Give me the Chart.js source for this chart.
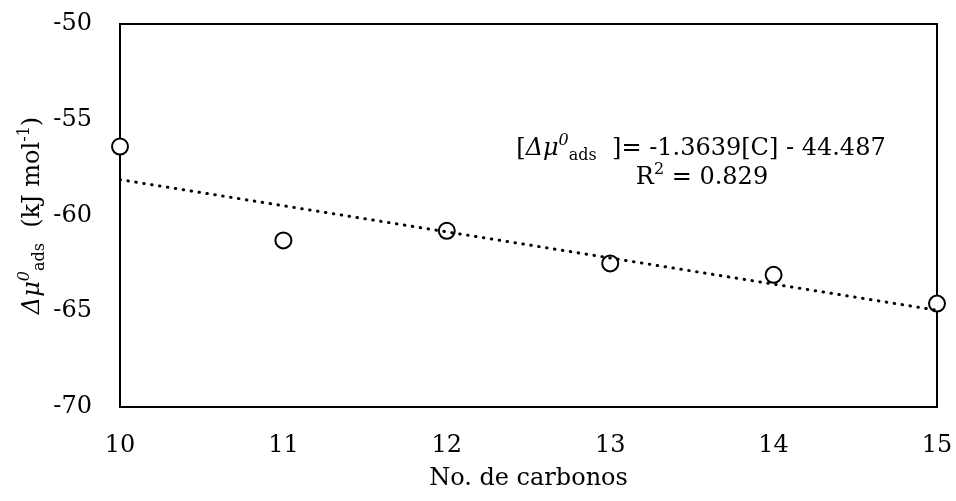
<!DOCTYPE html>
<html>
<head>
<meta charset="utf-8">
<script src="https://cdn.jsdelivr.net/npm/chart.js@4/dist/chart.umd.min.js"></script>
<style>
  html, body { margin: 0; padding: 0; background: #fff; }
</style>
</head>
<body>
<canvas id="ads" width="956" height="501"></canvas>
<script>
const carbonos = [10, 11, 12, 13, 14, 15];
const deltaMu = [-56.4, -61.3, -60.8, -62.5, -63.1, -64.6];

// linear fit reported on the chart
const slope = -1.3639;
const intercept = -44.487;
const r2 = 0.829;

const FONT = "'DejaVu Serif', 'Liberation Serif', serif";
const SIZE = 24;
const SMALL = 16;

const puntos = carbonos.map((c, i) => ({ x: c, y: deltaMu[i] }));
const ajuste = [carbonos[0], carbonos[carbonos.length - 1]].map(c => ({ x: c, y: slope * c + intercept }));

// draws a run of text pieces: [text, size, italic, dy]
function drawRuns(ctx, runs, x, y) {
  let total = 0;
  runs.forEach(r => {
    ctx.font = (r[2] ? 'italic ' : '') + r[1] + 'px ' + FONT;
    r.w = ctx.measureText(r[0]).width;
    total += r.w;
  });
  let cx = x - total / 2;
  runs.forEach(r => {
    ctx.font = (r[2] ? 'italic ' : '') + r[1] + 'px ' + FONT;
    ctx.fillText(r[0], cx, y + r[3]);
    cx += r.w;
  });
}

const extras = {
  id: 'extras',
  beforeDatasetsDraw(chart) {
    const { ctx, chartArea: a } = chart;
    ctx.save();
    ctx.strokeStyle = '#000';
    ctx.lineWidth = 2;
    ctx.strokeRect(a.left, a.top, a.right - a.left, a.bottom - a.top);
    ctx.restore();
  },
  afterDraw(chart) {
    const { ctx, chartArea: a } = chart;
    ctx.save();
    ctx.fillStyle = '#000';
    ctx.textBaseline = 'alphabetic';

    // ecuacion
    drawRuns(ctx, [
      ['[', SIZE, false, 0],
      ['\u0394\u03bc', SIZE, true, 0],
      ['0', SMALL, true, -10],
      ['ads', SMALL, false, 5],
      ['  ]= ' + slope.toFixed(4) + '[C] - ' + Math.abs(intercept).toFixed(3), SIZE, false, 0]
    ], 701, 155);
    drawRuns(ctx, [
      ['R', SIZE, false, 0],
      ['2', SMALL, false, -10],
      [' = ' + r2.toFixed(3), SIZE, false, 0]
    ], 702, 184);

    // titulo eje y
    ctx.translate(39, (a.top + a.bottom) / 2);
    ctx.rotate(-Math.PI / 2);
    drawRuns(ctx, [
      ['\u0394\u03bc', SIZE, true, 0],
      ['0', SMALL, true, -10],
      ['ads', SMALL, false, 5],
      ['  (kJ mol', SIZE, false, 0],
      ['-1', SMALL, false, -10],
      [')', SIZE, false, 0]
    ], 0, 0);
    ctx.restore();
  }
};

// keep the plot box where the layout padding puts it
function sinRelleno(scale) {
  scale.paddingLeft = 0;
  scale.paddingRight = 0;
  scale.paddingTop = 0;
  scale.paddingBottom = 0;
}

new Chart(document.getElementById('ads'), {
  type: 'scatter',
  data: {
    datasets: [
      {
        label: 'tendencia',
        type: 'line',
        data: ajuste,
        borderColor: '#000',
        borderWidth: 3,
        borderDash: [0.5, 7.5],
        borderCapStyle: 'round',
        pointRadius: 0,
        fill: false,
        order: 0
      },
      {
        label: 'datos',
        data: puntos,
        pointStyle: 'circle',
        pointRadius: 8,
        pointBorderWidth: 2,
        pointBackgroundColor: '#fff',
        pointBorderColor: '#000',
        clip: false,
        order: 1
      }
    ]
  },
  options: {
    responsive: false,
    animation: false,
    devicePixelRatio: 1,
    layout: { padding: { top: 24, right: 19, left: 0, bottom: 0 } },
    plugins: { legend: { display: false }, tooltip: { enabled: false } },
    scales: {
      x: {
        type: 'linear',
        min: 10,
        max: 15,
        grid: { display: false, drawTicks: false },
        border: { display: false },
        ticks: { stepSize: 1, color: '#000', padding: 24, font: { family: FONT, size: SIZE } },
        title: {
          display: true,
          text: 'No. de carbonos',
          color: '#000',
          font: { family: FONT, size: SIZE },
          padding: { top: 0, bottom: 8 }
        },
        afterFit(scale) { scale.height = 94; sinRelleno(scale); }
      },
      y: {
        min: -70,
        max: -50,
        grid: { display: false, drawTicks: false },
        border: { display: false },
        ticks: { stepSize: 5, color: '#000', padding: 28, font: { family: FONT, size: SIZE } },
        afterFit(scale) { scale.width = 120; sinRelleno(scale); }
      }
    }
  },
  plugins: [extras]
});
</script>
</body>
</html>
